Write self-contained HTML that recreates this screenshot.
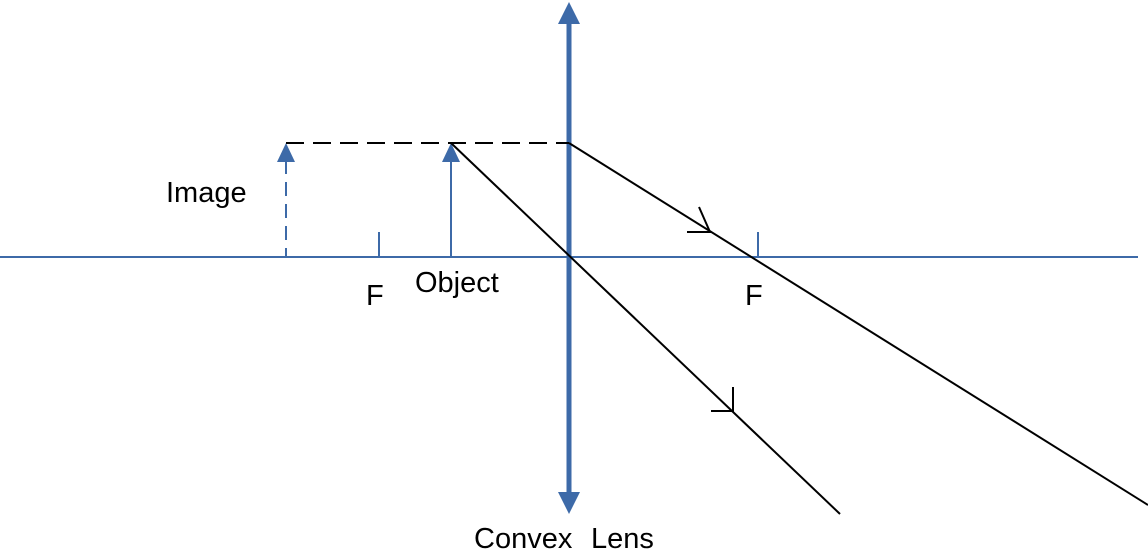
<!DOCTYPE html>
<html><head><style>
body{margin:0;background:#fff;width:1148px;height:551px;overflow:hidden}
svg text{font-family:"Liberation Sans",sans-serif;font-size:29px;fill:#000}
</style></head><body>
<svg width="1148" height="551" viewBox="0 0 1148 551">
<g stroke="#3d6aa8" fill="none">
<line x1="0" y1="257" x2="1138" y2="257" stroke-width="2"/>
<line x1="569" y1="20" x2="569" y2="496" stroke-width="5"/>
<line x1="379" y1="232" x2="379" y2="257" stroke-width="2"/>
<line x1="758" y1="232" x2="758" y2="257" stroke-width="2"/>
<line x1="451" y1="160" x2="451" y2="257" stroke-width="2"/>
<line x1="286" y1="160" x2="286" y2="257" stroke-width="2" stroke-dasharray="14,8"/>
</g>
<g fill="#3d6aa8">
<polygon points="569,2 558,24 580,24"/>
<polygon points="569,514 558,492 580,492"/>
<polygon points="451,143 442,162 460,162"/>
<polygon points="286,143 277,162 295,162"/>
</g>
<g stroke="#000" stroke-width="2" fill="none">
<line x1="286" y1="143" x2="569" y2="143" stroke-dasharray="18,9"/>
<line x1="569" y1="143" x2="1148" y2="505"/>
<line x1="451" y1="143" x2="840" y2="514"/>
<polyline points="687,232 710,232 699,207"/>
<polyline points="711,411 733,411 733,387"/>
</g>
<text x="166" y="202">Image</text>
<text x="366" y="305">F</text>
<text x="415" y="292">Object</text>
<text x="745" y="305">F</text>
<text x="474" y="548">Convex</text>
<text x="591" y="548">Lens</text>
</svg>
</body></html>
